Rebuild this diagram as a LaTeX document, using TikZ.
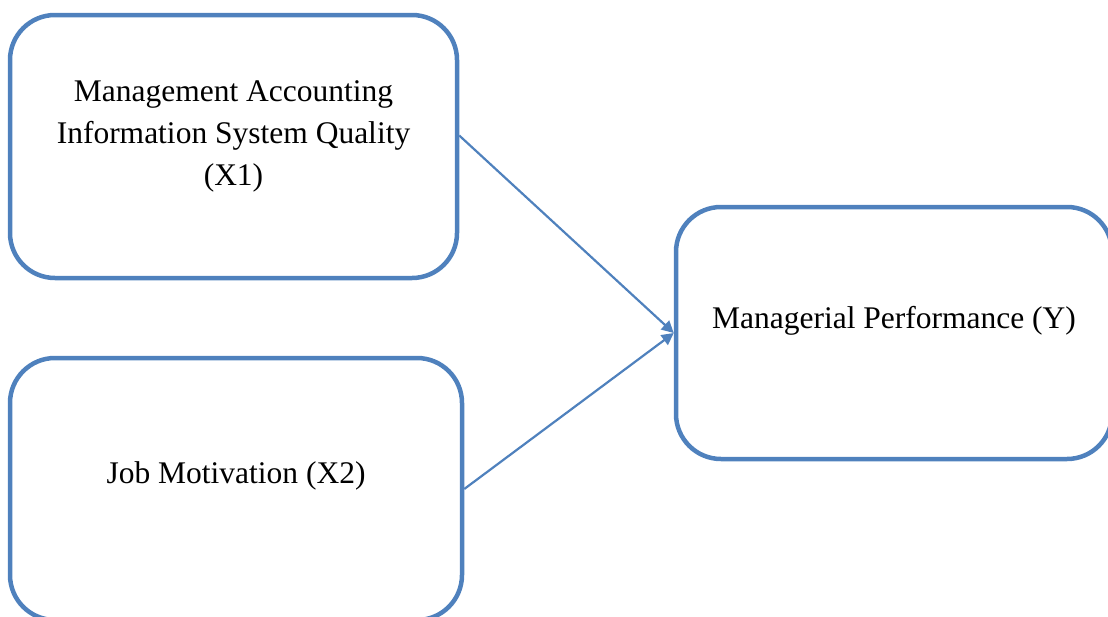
\documentclass[tikz,border=0pt]{standalone}
\usepackage{fontspec}
\setmainfont{Liberation Serif}
\usetikzlibrary{arrows.meta}
\definecolor{wblue}{RGB}{79,129,189}
\tikzset{
  box/.style={draw=wblue, line width=4.5pt, rounded corners=45pt, inner sep=0pt},
  txt/.style={align=center, font=\fontsize{31.5}{42}\selectfont, inner sep=0pt},
  conn/.style={draw=wblue, line width=2.2pt, -{Triangle[length=12pt,width=12pt]}}
}
\begin{document}
\begin{tikzpicture}[x=1pt,y=-1pt]
\useasboundingbox (0,0) rectangle (1108,616);
\node[box, minimum width=447pt, minimum height=263pt] (b1) at (233.5,146.5) {};
\node[box, minimum width=452pt, minimum height=262pt] (b2) at (236,489) {};
\node[box, minimum width=436pt, minimum height=252pt] (b3) at (894,333) {};
\node[txt] (t1) at ([yshift=10pt]b1.center) {Management Accounting\\Information System Quality\\(X1)};
\node[txt] (t2) at ([yshift=13pt]b2.center) {Job Motivation (X2)};
\node[txt] (t3) at ([yshift=12pt]b3.center) {Managerial Performance (Y)};
\coordinate (s1) at ([yshift=11pt]b1.east);
\draw[conn] (s1) -- (b3.west);
\draw[conn] (b2.east) -- (b3.west);
\end{tikzpicture}
\end{document}
